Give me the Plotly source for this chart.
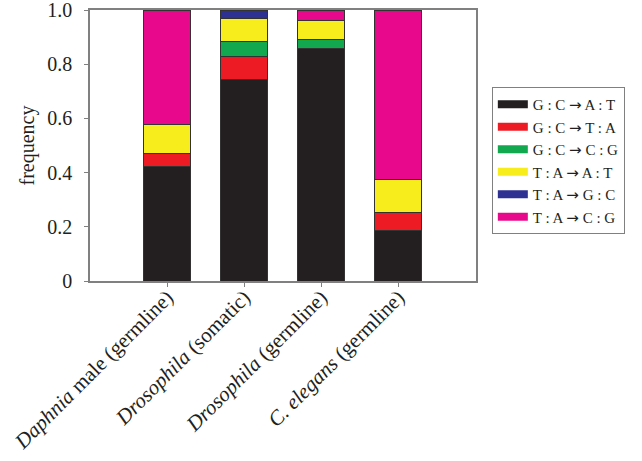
import plotly.graph_objects as go

categories = [
    "<i>Daphnia</i> male (germline)",
    "<i>Drosophila</i> (somatic)",
    "<i>Drosophila</i> (germline)",
    "<i>C. elegans</i> (germline)",
]
ARROW = '<span style="font-family:DejaVu Sans">→</span>'
series_names = ["G : C " + ARROW + " A : T", "G : C " + ARROW + " T : A",
                "G : C " + ARROW + " C : G", "T : A " + ARROW + " A : T",
                "T : A " + ARROW + " G : C", "T : A " + ARROW + " C : G"]
gc_at = [0.422, 0.743, 0.857, 0.188]
gc_ta = [0.050, 0.085, 0.000, 0.064]
gc_cg = [0.000, 0.056, 0.035, 0.000]
ta_at = [0.107, 0.086, 0.071, 0.123]
ta_gc = [0.000, 0.030, 0.000, 0.000]
ta_cg = [0.421, 0.000, 0.037, 0.625]
series_values = [gc_at, gc_ta, gc_cg, ta_at, ta_gc, ta_cg]
colors = ["#231f20", "#ed1c24", "#12a84f", "#f7ec1c", "#2e3192", "#e8088c"]
y_tickvals = [0, 0.2, 0.4, 0.6, 0.8, 1.0]
y_ticktext = ["0", "0.2", "0.4", "0.6", "0.8", "1.0"]

serif = "Liberation Serif"

fig = go.Figure()
for name, vals, col in zip(series_names, series_values, colors):
    fig.add_trace(go.Bar(
        x=list(range(len(categories))), y=vals, name=name,
        marker=dict(color=col, line=dict(color="#333333", width=1)),
        width=0.61, showlegend=False,
    ))
# legend entries with wide swatches
for name, col in zip(series_names, colors):
    fig.add_trace(go.Scatter(
        x=[None], y=[None], mode="lines", name=name,
        line=dict(color=col, width=8), showlegend=True,
    ))

fig.update_layout(
    barmode="stack",
    width=642, height=461,
    margin=dict(l=90, r=166, t=10, b=180),
    paper_bgcolor="white", plot_bgcolor="white",
    font=dict(family=serif, size=20, color="#231f20"),
    legend=dict(
        x=1.041, y=0.716, xanchor="left", yanchor="top",
        traceorder="normal",
        bordercolor="#808080", borderwidth=1,
        font=dict(family=serif, size=15, color="#231f20"),
        itemwidth=30, tracegroupgap=0,
    ),
    xaxis=dict(
        range=[-1.0, 4.01],
        tickvals=list(range(len(categories))), ticktext=categories,
        tickangle=-45, automargin=False, ticklabeloverflow="allow",
        ticklabelstandoff=-10,
        ticks="outside", ticklen=4, tickcolor="#808080",
        showline=True, linecolor="#808080", linewidth=1.5, mirror=True,
        showgrid=False, zeroline=False,
        tickfont=dict(family=serif, size=21),
    ),
    yaxis=dict(
        range=[0, 1.0], automargin=False, ticklabeloverflow="allow",
        tickvals=y_tickvals, ticktext=y_ticktext,
        ticks="outside", ticklen=4, tickcolor="#808080",
        ticklabelstandoff=8,
        showline=True, linecolor="#808080", linewidth=1.5, mirror=True,
        showgrid=False, zeroline=False,
        title=dict(text="frequency", font=dict(family=serif, size=20), standoff=7),
        tickfont=dict(family=serif, size=20),
    ),
)

fig.write_html("out.html", config={"displayModeBar": False},
               post_script="document.body.style.margin='0px';")
